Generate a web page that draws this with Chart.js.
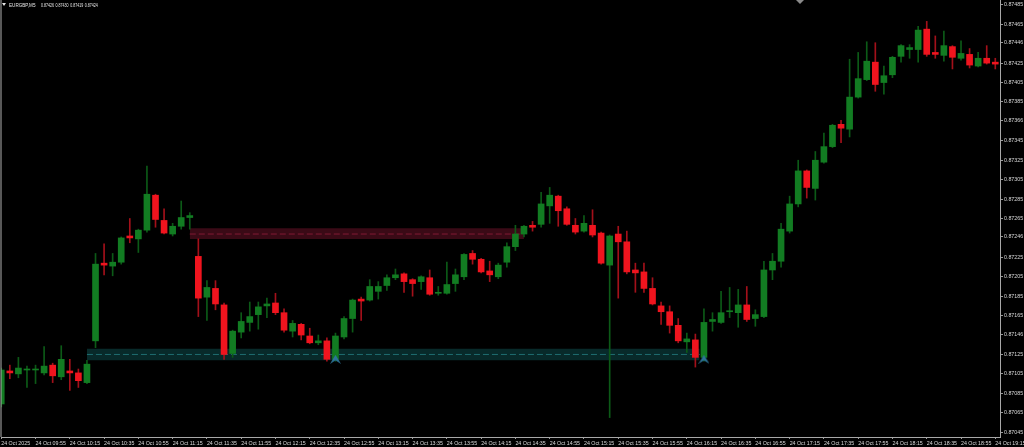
<!DOCTYPE html>
<html><head><meta charset="utf-8">
<script src="https://cdn.jsdelivr.net/npm/chart.js@4.4.1/dist/chart.umd.min.js"></script>
<style>html,body{margin:0;padding:0;background:#000;overflow:hidden}#wrap{width:1024px;height:447px}</style>
</head><body><div id="wrap"><canvas id="c" width="1024" height="447"></canvas></div>
<script>
const symbol = 'EURGBP,M5';
const opens = [0.87074,0.87108,0.87105,0.87109,0.87109,0.87106,0.87114,0.87102,0.87108,0.87106,
0.87096,0.87139,0.87219,0.87216,0.87220,0.87247,0.87244,0.87253,0.87289,0.87263,
0.87249,0.87257,0.87266,0.87226,0.87184,0.87193,0.87176,0.87126,0.87148,0.87158,
0.87166,0.87175,0.87178,0.87168,0.87149,0.87156,0.87144,0.87137,0.87139,0.87120,
0.87143,0.87162,0.87182,0.87181,0.87190,0.87196,0.87204,0.87208,0.87202,0.87200,
0.87204,0.87188,0.87188,0.87198,0.87205,0.87229,0.87223,0.87211,0.87205,0.87220,
0.87236,0.87249,0.87258,0.87259,0.87278,0.87288,0.87275,0.87258,0.87252,0.87258,
0.87250,0.87217,0.87249,0.87241,0.87212,0.87210,0.87193,0.87175,0.87169,0.87155,
0.87138,0.87140,0.87122,0.87159,0.87158,0.87169,0.87168,0.87176,0.87162,0.87164,
0.87212,0.87221,0.87252,0.87280,0.87314,0.87296,0.87323,0.87339,0.87362,0.87357,
0.87390,0.87408,0.87426,0.87405,0.87413,0.87432,0.87439,0.87439,0.87460,0.87436,
0.87433,0.87442,0.87430,0.87434,0.87422,0.87430,0.87426];
const highs = [0.87111,0.87114,0.87122,0.87113,0.87114,0.87133,0.87116,0.87134,0.87120,0.87110,
0.87119,0.87229,0.87239,0.87229,0.87246,0.87265,0.87254,0.87319,0.87290,0.87275,
0.87260,0.87283,0.87271,0.87244,0.87201,0.87201,0.87178,0.87150,0.87168,0.87179,
0.87179,0.87183,0.87188,0.87172,0.87160,0.87157,0.87152,0.87145,0.87142,0.87147,
0.87164,0.87182,0.87184,0.87202,0.87200,0.87207,0.87213,0.87209,0.87203,0.87206,
0.87212,0.87195,0.87220,0.87213,0.87229,0.87232,0.87224,0.87221,0.87219,0.87240,
0.87258,0.87258,0.87262,0.87292,0.87297,0.87289,0.87277,0.87265,0.87268,0.87274,
0.87251,0.87248,0.87257,0.87252,0.87219,0.87219,0.87204,0.87179,0.87175,0.87162,
0.87147,0.87146,0.87172,0.87168,0.87190,0.87194,0.87192,0.87195,0.87171,0.87221,
0.87229,0.87260,0.87288,0.87325,0.87315,0.87334,0.87353,0.87362,0.87366,0.87429,
0.87436,0.87447,0.87446,0.87422,0.87432,0.87444,0.87444,0.87463,0.87468,0.87453,
0.87458,0.87443,0.87448,0.87440,0.87436,0.87443,0.87430];
const lows = [0.87071,0.87100,0.87101,0.87091,0.87095,0.87104,0.87096,0.87099,0.87088,0.87091,
0.87095,0.87132,0.87207,0.87206,0.87218,0.87240,0.87230,0.87251,0.87256,0.87249,
0.87247,0.87254,0.87254,0.87164,0.87160,0.87171,0.87120,0.87122,0.87142,0.87149,
0.87151,0.87163,0.87166,0.87148,0.87143,0.87140,0.87136,0.87135,0.87118,0.87118,
0.87141,0.87148,0.87160,0.87180,0.87182,0.87191,0.87202,0.87189,0.87185,0.87192,
0.87186,0.87186,0.87187,0.87190,0.87202,0.87218,0.87209,0.87200,0.87203,0.87215,
0.87232,0.87246,0.87252,0.87256,0.87260,0.87257,0.87258,0.87249,0.87251,0.87246,
0.87218,0.87060,0.87183,0.87208,0.87189,0.87189,0.87176,0.87156,0.87147,0.87137,
0.87127,0.87112,0.87118,0.87149,0.87157,0.87163,0.87153,0.87159,0.87154,0.87163,
0.87202,0.87215,0.87250,0.87277,0.87286,0.87284,0.87322,0.87338,0.87343,0.87349,
0.87389,0.87407,0.87396,0.87393,0.87410,0.87426,0.87430,0.87426,0.87432,0.87430,
0.87427,0.87419,0.87428,0.87420,0.87421,0.87424,0.87419];
const closes = [0.87109,0.87106,0.87111,0.87110,0.87110,0.87113,0.87103,0.87120,0.87106,0.87098,
0.87115,0.87218,0.87217,0.87220,0.87245,0.87245,0.87253,0.87290,0.87264,0.87250,
0.87257,0.87266,0.87268,0.87183,0.87194,0.87177,0.87125,0.87149,0.87159,0.87164,
0.87174,0.87177,0.87168,0.87150,0.87157,0.87145,0.87137,0.87139,0.87120,0.87144,
0.87162,0.87181,0.87180,0.87195,0.87195,0.87204,0.87207,0.87200,0.87198,0.87205,
0.87187,0.87189,0.87197,0.87207,0.87228,0.87223,0.87210,0.87207,0.87217,0.87236,
0.87249,0.87257,0.87256,0.87280,0.87289,0.87273,0.87259,0.87251,0.87260,0.87248,
0.87219,0.87247,0.87241,0.87210,0.87209,0.87193,0.87177,0.87169,0.87155,0.87139,
0.87141,0.87122,0.87158,0.87161,0.87168,0.87170,0.87176,0.87161,0.87166,0.87212,
0.87221,0.87254,0.87280,0.87314,0.87297,0.87325,0.87339,0.87361,0.87358,0.87390,
0.87409,0.87427,0.87403,0.87412,0.87431,0.87443,0.87441,0.87459,0.87434,0.87434,
0.87443,0.87431,0.87435,0.87423,0.87430,0.87425,0.87424];

const xTickIndex = [0,4,8,12,16,20,24,28,32,36,40,44,48,52,56,60,64,68,72,76,80,84,88,92,96,100,104,108,112,116];
const xTickLabels = ['24 Oct 2025','24 Oct 09:55','24 Oct 10:15','24 Oct 10:35','24 Oct 10:55','24 Oct 11:15','24 Oct 11:35','24 Oct 11:55','24 Oct 12:15','24 Oct 12:35','24 Oct 12:55','24 Oct 13:15','24 Oct 13:35','24 Oct 13:55','24 Oct 14:15','24 Oct 14:35','24 Oct 14:55','24 Oct 15:15','24 Oct 15:35','24 Oct 15:55','24 Oct 16:15','24 Oct 16:35','24 Oct 16:55','24 Oct 17:15','24 Oct 17:35','24 Oct 17:55','24 Oct 18:15','24 Oct 18:35','24 Oct 18:55','24 Oct 19:15'];
const yTickLabels = ['0.87485','0.87465','0.87446','0.87425','0.87405','0.87385','0.87366','0.87345','0.87325','0.87305','0.87285','0.87265','0.87246','0.87225','0.87205','0.87185','0.87165','0.87146','0.87125','0.87105','0.87085','0.87065','0.87045'];

const redZoneX = [22, 61];
const redZonePrice = [0.87244, 0.87255, 0.87249];   // bottom, top, middle
const tealZoneX = [10, 81.5];
const tealZonePrice = [0.87119, 0.87131, 0.87125];  // bottom, top, middle
const markerIndex = [39, 82];
const markerPrice = [0.87120, 0.87120];

const upBody = '#127c22', downBody = '#f0141e', upWick = '#0c5a17', downWick = '#a3101a';
const idx = opens.map((_, i) => i);
const isUp = idx.map(i => closes[i] >= opens[i]);

const chevron = (() => {
  const c = document.createElement('canvas'); c.width = 11; c.height = 9;
  const g = c.getContext('2d'); g.fillStyle = '#2c7598';
  g.beginPath(); g.moveTo(0, 9); g.lineTo(5.5, 0); g.lineTo(11, 9); g.lineTo(5.5, 5.5); g.closePath(); g.fill();
  return c;
})();

const decor = {
  id: 'decor',
  beforeDraw(chart) {
    const { ctx, width, height } = chart;
    ctx.save(); ctx.fillStyle = '#000'; ctx.fillRect(0, 0, width, height); ctx.restore();
  },
  afterDraw(chart) {
    const { ctx, chartArea: a } = chart;
    ctx.save();
    ctx.strokeStyle = '#b0b0b0'; ctx.lineWidth = 1;
    ctx.beginPath(); ctx.moveTo(a.left, a.top); ctx.lineTo(a.left, a.bottom); ctx.stroke();
    ctx.fillStyle = '#e6e6e6';
    ctx.beginPath(); ctx.moveTo(2, 3); ctx.lineTo(6, 3); ctx.lineTo(4, 6); ctx.closePath(); ctx.fill();
    ctx.textBaseline = 'middle';
    ctx.font = '5px "Liberation Sans"';
    ctx.save(); ctx.translate(9, 5.5); ctx.scale(0.92, 1); ctx.fillText(symbol, 0, 0); ctx.restore();
    ctx.font = '4.6px "Liberation Sans"';
    const last = opens.length - 1;
    [opens[last], highs[last], lows[last], closes[last]].forEach((v, k) => {
      ctx.save(); ctx.translate(41 + 14.6 * k, 5.5); ctx.scale(0.78, 1); ctx.fillText(v.toFixed(5), 0, 0); ctx.restore();
    });
    ctx.fillStyle = '#8a8a8a';
    ctx.beginPath(); ctx.moveTo(796, 0); ctx.lineTo(804, 0); ctx.lineTo(800, 4); ctx.closePath(); ctx.fill();
    ctx.restore();
  }
};

const zoneFill = (xs, p, color) => ({
  type: 'line', data: [{ x: xs[0], y: p[1] }, { x: xs[1], y: p[1] }],
  fill: { value: p[0] }, backgroundColor: color, borderWidth: 0, pointRadius: 0, order: 10
});
const zoneDash = (xs, p, color) => ({
  type: 'line', data: [{ x: xs[0], y: p[2] }, { x: xs[1], y: p[2] }],
  fill: false, borderColor: color, borderWidth: 1, borderDash: [6, 3], pointRadius: 0, order: 9
});

const axisFont = { family: 'Liberation Sans', size: 5.3 };

new Chart(document.getElementById('c'), {
  type: 'bar',
  data: {
    datasets: [
      { type: 'line', data: markerIndex.map((m, k) => ({ x: m, y: markerPrice[k] })), showLine: false,
        pointStyle: chevron, pointRadius: 5, order: -1 },
      { type: 'bar', data: idx.map(i => ({ x: i, y: [opens[i], closes[i]] })),
        backgroundColor: idx.map(i => isUp[i] ? upBody : downBody), barThickness: 6, minBarLength: 1,
        grouped: false, borderWidth: 0, order: 1 },
      { type: 'bar', data: idx.map(i => ({ x: i, y: [lows[i], highs[i]] })),
        backgroundColor: idx.map(i => isUp[i] ? upWick : downWick), barThickness: 1,
        grouped: false, borderWidth: 0, order: 2 },
      zoneFill(redZoneX, redZonePrice, '#3a0a16'),
      zoneDash(redZoneX, redZonePrice, '#801a34'),
      zoneFill(tealZoneX, tealZonePrice, '#082a2a'),
      zoneDash(tealZoneX, tealZonePrice, '#1f6d70')
    ]
  },
  options: {
    responsive: false, animation: false, devicePixelRatio: 1,
    layout: { autoPadding: false, padding: { left: 1, right: 0, top: 0, bottom: 0 } },
    plugins: { legend: { display: false }, tooltip: { enabled: false } },
    scales: {
      x: {
        type: 'linear', min: -0.03, max: 116.55, offset: false,
        grid: { display: true, offset: false, drawOnChartArea: false, drawTicks: true, tickLength: 2, color: '#9a9a9a' },
        border: { display: true, color: '#a8a8a8' },
        ticks: { autoSkip: false, maxRotation: 0, minRotation: 0, align: 'start', labelOffset: 0, padding: 1,
          color: '#dadada', font: axisFont, callback: (v, i) => xTickLabels[i] },
        afterBuildTicks: s => { s.ticks = xTickIndex.map(v => ({ value: v })); },
        afterFit: s => { s.height = 10; s.paddingLeft = 0; s.paddingRight = 0; }
      },
      y: {
        type: 'linear', position: 'right', min: 0.8704, max: 0.8749,
        grid: { drawOnChartArea: false, drawTicks: true, tickLength: 3, color: '#9a9a9a' },
        border: { display: true, color: '#a8a8a8' },
        ticks: { padding: 1, color: '#dadada', font: axisFont, autoSkip: false,
          callback: (v, i) => yTickLabels[i] },
        afterBuildTicks: s => { s.ticks = yTickLabels.map(t => ({ value: parseFloat(t) })); },
        afterFit: s => { s.width = 24; s.paddingTop = 0; s.paddingBottom = 0; }
      }
    }
  },
  plugins: [decor]
});
</script>
</body></html>
